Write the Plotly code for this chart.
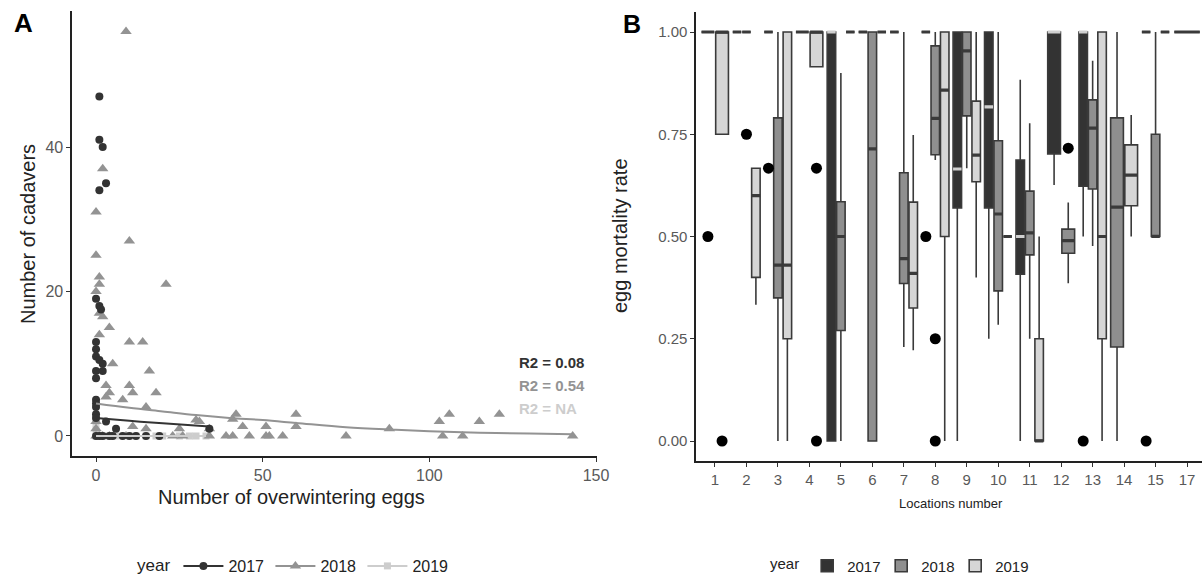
import plotly.graph_objects as go

# ---------------- Panel A data ----------------
a2017_x = [1, 1, 2, 3, 1, 0, 1, 1.5, 0, 0, 0, 1, 2, 2, 0, 0, 0, 0, 0, 0, 0, 3, 6, 19,
           0, 1, 2, 4, 5, 8, 10, 12, 15, 34]
a2017_y = [47, 41, 40, 35, 34, 19, 18, 17.5, 13, 12, 11, 10.5, 10, 9, 9, 8, 5, 4.5, 4, 3, 2.5, 2, 1, 0,
           0, 0, 0, 0, 0, 0, 0, 0, 0, 1]

a2018_x = [9, 2, 0, 10, 0, 1, 1, 21, 0, 1, 2, 1, 4, 10, 14, 5, 16, 3, 10, 4, 8, 11, 18, 3, 15,
           30, 31, 42, 41, 25, 34, 44, 51, 60, 60, 11, 15, 23, 26, 34, 39, 41, 46, 51, 52, 56,
           9, 4, 75, 88, 103, 106, 104, 110, 115, 121, 143, 0, 1, 2, 0, 0]
a2018_y = [56, 37, 31, 27, 25, 22, 21, 21, 20, 17, 16.5, 14, 15, 13, 13, 10, 9, 7, 7, 6, 5, 6, 6, 5.4, 4,
           2.2, 2, 3, 2.3, 1, 1, 1.3, 1.3, 3, 1.3, 1.3, 1, 0, 0, 0, 0, 0, 0, 0, 0, 0,
           0, 0, 0, 1, 2, 3, 0, 0, 2, 3, 0, 0, 0, 0, 1, 2]

a2019_x = [0, 1, 2, 3, 5, 7, 10, 12, 15, 18, 20, 25, 28, 30, 33, 0, 0]
a2019_y = [0, 0, 0, 0, 0, 0, 0, 0, 0, 0, 0, 0, 0, 0, 0, 1, 2]

fit2017_x = [0, 10, 20, 34]
fit2017_y = [2.5, 2.1, 1.75, 1.3]
fit2018_x = [0, 10, 20, 30, 40, 50, 60, 75, 90, 100, 115, 130, 143]
fit2018_y = [4.5, 3.9, 3.4, 2.9, 2.5, 2.2, 1.8, 1.2, 0.85, 0.65, 0.45, 0.33, 0.25]
fit2019_x = [0, 33]
fit2019_y = [0, 0]

r2_labels = ["R2 = 0.08", "R2 = 0.54", "R2 = NA"]

# ---------------- Panel B data ----------------
loc_labels = ["1", "2", "3", "4", "5", "6", "7", "8", "9", "10", "11", "12", "13", "14", "15", "17"]
box_loc = [1, 1, 2, 2, 2, 3, 3, 3, 4, 4, 5, 5, 5, 6, 6, 6, 7, 7, 7, 8, 8, 8,
           9, 9, 9, 10, 10, 10, 11, 11, 11, 12, 12, 13, 13, 13, 14, 14, 15, 15, 15, 17]
box_year = [2018, 2019, 2017, 2018, 2019, 2017, 2018, 2019, 2017, 2019, 2017, 2018, 2019,
            2017, 2018, 2019, 2017, 2018, 2019, 2017, 2018, 2019, 2017, 2018, 2019,
            2017, 2018, 2019, 2017, 2018, 2019, 2017, 2018, 2017, 2018, 2019, 2018, 2019,
            2017, 2018, 2019, 2018]
box_lo = [1, 0.75, 1, 1, 0.333, 1, 0.0, 0.0, 1, 0.915, 0.0, 0.0, 1, 1, 0.0, 1, 1, 0.23, 0.222,
          1, 0.687, 0.0, 0.0, 0.667, 0.4, 0.25, 0.284, 0.5, 0.0, 0.25, 0.0, 0.626, 0.386,
          0.5, 0.477, 0.0, 0.0, 0.5, 1, 0.5, 1, 1]
box_q1 = [1, 0.75, 1, 1, 0.40, 1, 0.35, 0.25, 1, 0.915, 0.0, 0.27, 1, 1, 0.0, 1, 1, 0.385, 0.325,
          1, 0.70, 0.5, 0.57, 0.795, 0.634, 0.57, 0.367, 0.5, 0.408, 0.455, 0.0, 0.702, 0.459,
          0.623, 0.616, 0.25, 0.23, 0.575, 1, 0.5, 1, 1]
box_med = [1, 1.0, 1, 1, 0.60, 1, 0.43, 0.43, 1, 1.0, 1.0, 0.50, 1, 1, 0.714, 1, 1, 0.446, 0.41,
           1, 0.789, 0.858, 0.665, 0.954, 0.699, 0.817, 0.555, 0.5, 0.5, 0.509, 0.0, 1.0, 0.49,
           1.0, 0.765, 0.5, 0.572, 0.65, 1, 0.5, 1, 1]
box_q3 = [1, 1.0, 1, 1, 0.667, 1, 0.79, 1.0, 1, 1.0, 1.0, 0.585, 1, 1, 1.0, 1, 1, 0.656, 0.584,
          1, 0.966, 1.0, 1.0, 1.0, 0.831, 1.0, 0.734, 0.5, 0.687, 0.611, 0.25, 1.0, 0.518,
          1.0, 0.834, 1.0, 0.79, 0.724, 1, 0.75, 1, 1]
box_hi = [1, 1.0, 1, 1, 0.667, 1, 1.0, 1.0, 1, 1.0, 1.0, 0.90, 1, 1, 1.0, 1, 1, 1.0, 0.748,
          1, 1.0, 1.0, 1.0, 1.0, 1.0, 1.0, 1.0, 0.5, 0.883, 0.777, 0.5, 1.0, 0.583,
          1.0, 0.93, 1.0, 1.0, 0.797, 1, 1.0, 1, 1]

out_loc = [1, 1, 2, 3, 4, 4, 8, 8, 8, 12, 13, 15]
out_year = [2018, 2019, 2018, 2017, 2019, 2019, 2017, 2018, 2018, 2018, 2017, 2017]
out_val = [0.5, 0.0, 0.75, 0.667, 0.667, 0.0, 0.5, 0.25, 0.0, 0.716, 0.0, 0.0]

years = [2017, 2018, 2019]

# ---------------- styling ----------------
W, H = 1202, 582
FONT = "Liberation Sans, Arial, sans-serif"
pt_col = {2017: "#333333", 2018: "#939393", 2019: "#cdcdcd"}
fill_col = {2017: "#333333", 2018: "#8f8f8f", 2019: "#d6d6d6"}
edge_col = "#3a3a3a"
tick_col = "#595959"


def px_x(p):
    return p / W


def px_y(p):
    return 1 - p / H


fig = go.Figure()

# ---------- Panel A ----------
sym = {2017: "circle", 2018: "triangle-up", 2019: "square"}
msize = {2017: 8, 2018: 10, 2019: 7}
pts = {2017: (a2017_x, a2017_y), 2018: (a2018_x, a2018_y), 2019: (a2019_x, a2019_y)}
fits = {2017: (fit2017_x, fit2017_y), 2018: (fit2018_x, fit2018_y), 2019: (fit2019_x, fit2019_y)}
for yr in [2019, 2018, 2017]:
    x, y = pts[yr]
    fig.add_trace(go.Scatter(x=x, y=y, mode="markers", xaxis="x", yaxis="y",
                             marker=dict(symbol=sym[yr], size=msize[yr], color=pt_col[yr]),
                             showlegend=False, hoverinfo="skip"))
for yr in [2019, 2018, 2017]:
    fx, fy = fits[yr]
    fig.add_trace(go.Scatter(x=fx, y=fy, mode="lines", xaxis="x", yaxis="y",
                             line=dict(color=pt_col[yr], width=2, shape="spline"),
                             showlegend=False, hoverinfo="skip"))
# legend entries A
for yr in years:
    fig.add_trace(go.Scatter(x=[None], y=[None], mode="lines+markers", xaxis="x", yaxis="y",
                             name=str(yr), legend="legend",
                             marker=dict(symbol=sym[yr], size=msize[yr], color=pt_col[yr]),
                             line=dict(color=pt_col[yr], width=2)))

# ---------- Panel B ----------
loc_years = {}
for l, yr in zip(box_loc, box_year):
    loc_years.setdefault(l, []).append(yr)
for l in loc_years:
    loc_years[l] = sorted(loc_years[l])


def dodge(l, yr):
    idx = loc_labels.index(str(l)) + 1
    ys = loc_years[l]
    n = len(ys)
    j = ys.index(yr)
    c = idx - 0.45 + (j + 0.5) * 0.9 / n
    w = 0.9 / n * 0.9
    return c, w


med_light_x, med_light_y, med_dark_x, med_dark_y = [], [], [], []
for l, yr, lo, q1, md, q3, hi in zip(box_loc, box_year, box_lo, box_q1, box_med, box_q3, box_hi):
    c, w = dodge(l, yr)
    fig.add_trace(go.Box(x=[c], q1=[q1], median=[md], q3=[q3], lowerfence=[lo], upperfence=[hi],
                         width=w, whiskerwidth=0, fillcolor=fill_col[yr],
                         line=dict(color=edge_col, width=1.6), xaxis="x2", yaxis="y2",
                         showlegend=False, hoverinfo="skip", boxpoints=False))
    if yr == 2017 and q3 > q1:
        med_light_x += [c - w / 2, c + w / 2, None]
        med_light_y += [md, md, None]
    else:
        med_dark_x += [c - w / 2, c + w / 2, None]
        med_dark_y += [md, md, None]

fig.add_trace(go.Scatter(x=med_dark_x, y=med_dark_y, mode="lines", xaxis="x2", yaxis="y2",
                         line=dict(color=edge_col, width=3.2), showlegend=False, hoverinfo="skip"))
fig.add_trace(go.Scatter(x=med_light_x, y=med_light_y, mode="lines", xaxis="x2", yaxis="y2",
                         line=dict(color="#d0d0d0", width=3.2), showlegend=False, hoverinfo="skip"))

ox = [dodge(l, yr)[0] for l, yr in zip(out_loc, out_year)]
fig.add_trace(go.Scatter(x=ox, y=out_val, mode="markers", xaxis="x2", yaxis="y2",
                         marker=dict(color="black", size=11), showlegend=False, hoverinfo="skip"))

# legend entries B
for yr in years:
    fig.add_trace(go.Box(x=[None], q1=[None], median=[None], q3=[None], lowerfence=[None],
                         upperfence=[None], name=str(yr), legend="legend2",
                         fillcolor=fill_col[yr], line=dict(color=edge_col, width=1.6),
                         xaxis="x2", yaxis="y2"))

# ---------- axes ----------
axis_common = dict(showline=True, linecolor="#222222", linewidth=1.5, ticks="outside",
                   ticklen=4, tickwidth=1.2, tickcolor="#333333", showgrid=False,
                   zeroline=False, automargin=False,
                   tickfont=dict(family=FONT, size=16, color=tick_col))
axis_b = {**axis_common, "tickfont": dict(family=FONT, size=15, color=tick_col)}

fig.update_layout(
    width=W, height=H, margin=dict(l=0, r=0, t=0, b=0, autoexpand=False),
    paper_bgcolor="white", plot_bgcolor="white", boxmode="overlay",
    font=dict(family=FONT),
    xaxis=dict(domain=[px_x(72.2), px_x(596.5)], range=[-7.15, 150.15],
               tickvals=[0, 50, 100, 150], anchor="y", **axis_common),
    yaxis=dict(domain=[px_y(456.2), px_y(11.2)], range=[-2.8, 58.8],
               tickvals=[0, 20, 40], anchor="x", **axis_common),
    xaxis2=dict(domain=[px_x(696.1), 1.0], range=[0.4, 16.475],
                tickvals=list(range(1, len(loc_labels) + 1)), ticktext=loc_labels,
                anchor="y2", **axis_b),
    yaxis2=dict(domain=[px_y(461.45), px_y(11.55)], range=[-0.05, 1.05],
                tickvals=[0, 0.25, 0.5, 0.75, 1.0], tickformat=".2f",
                anchor="x2", **axis_b),
    legend=dict(orientation="h", x=px_x(135), y=px_y(566), xanchor="left", yanchor="middle",
                title=dict(text="year", font=dict(size=17, color="#222222")),
                font=dict(family=FONT, size=16, color="#222222"), itemwidth=40,
                entrywidth=37, bgcolor="rgba(0,0,0,0)"),
    legend2=dict(orientation="h", x=px_x(768), y=px_y(566), xanchor="left", yanchor="middle",
                 title=dict(text="year", font=dict(size=15, color="#222222")),
                 font=dict(family=FONT, size=15, color="#222222"), itemwidth=30,
                 entrywidth=29, bgcolor="rgba(0,0,0,0)"),
)

annos = [
    dict(text="<b>A</b>", x=px_x(23), y=px_y(23), font=dict(size=26, color="black")),
    dict(text="<b>B</b>", x=px_x(632), y=px_y(24), font=dict(size=25, color="black")),
    dict(text="Number of cadavers", x=px_x(28), y=px_y(234), textangle=-90,
         font=dict(size=20, color="#222222")),
    dict(text="Number of overwintering eggs", x=px_x(291), y=px_y(497),
         font=dict(size=20, color="#222222")),
    dict(text="egg mortality rate", x=px_x(620), y=px_y(236), textangle=-90,
         font=dict(size=20, color="#222222")),
    dict(text="Locations number", x=px_x(951), y=px_y(503),
         font=dict(size=13, color="#222222")),
]
for a in annos:
    fig.add_annotation(xref="paper", yref="paper", showarrow=False, xanchor="center",
                       yanchor="middle", **a)

r2_y = [10.24, 6.92, 3.74]
for lab, yv, yr in zip(r2_labels, r2_y, years):
    fig.add_annotation(x=126.3, y=yv, xref="x", yref="y", text="<b>" + lab + "</b>",
                       showarrow=False, xanchor="left", yanchor="middle",
                       font=dict(family=FONT, size=15, color=pt_col[yr]))

fig.write_html("out.html", config={"displayModeBar": False},
               post_script="document.body.style.margin='0';document.body.style.overflow='hidden';")
